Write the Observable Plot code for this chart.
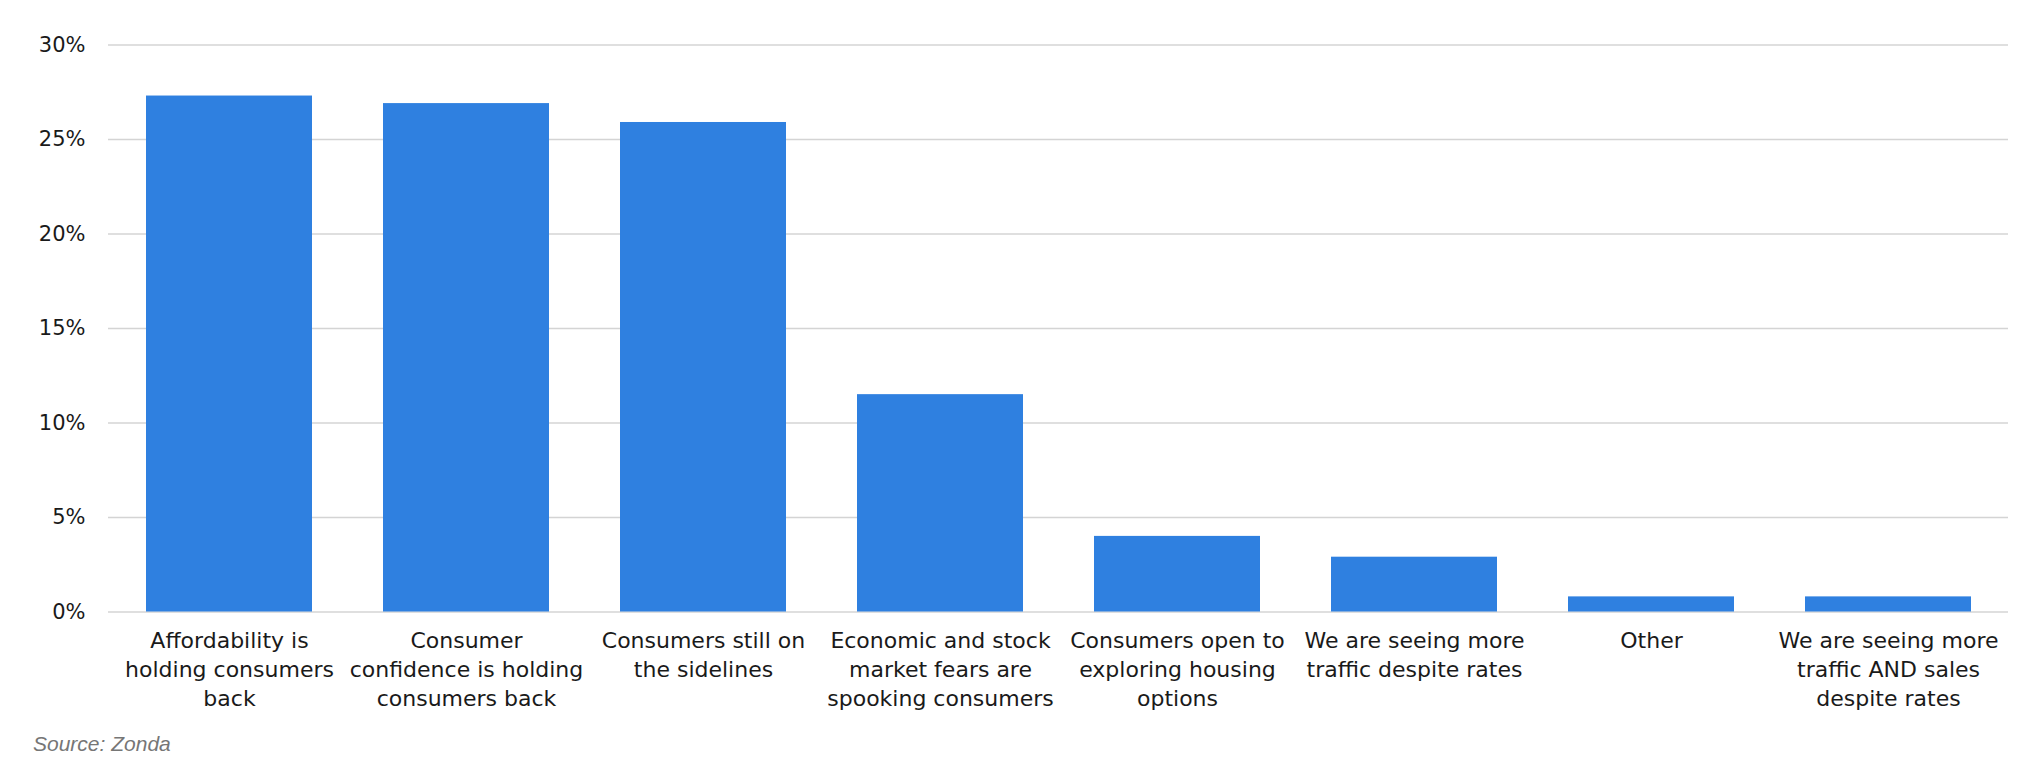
<!DOCTYPE html>
<html>
<head>
<meta charset="utf-8">
<script src="https://cdn.jsdelivr.net/npm/d3@7"></script>
<script src="https://cdn.jsdelivr.net/npm/@observablehq/plot@0.6"></script>
<style>
  html, body { margin: 0; padding: 0; background: #fff; }
  #chart svg { display: block; }
  #caption {
    font-family: "Liberation Sans", Arial, sans-serif;
    font-style: italic;
    font-size: 21px;
    line-height: 24px;
    color: #767676;
    margin: 12px 0 0 33px;
  }
</style>
</head>
<body>
<div id="chart"></div>
<div id="caption">Source: Zonda</div>
<script>
const categories = [
  "Affordability is holding consumers back",
  "Consumer confidence is holding consumers back",
  "Consumers still on the sidelines",
  "Economic and stock market fears are spooking consumers",
  "Consumers open to exploring housing options",
  "We are seeing more traffic despite rates",
  "Other",
  "We are seeing more traffic AND sales despite rates"
];
const tickLabels = [
  "Affordability is\nholding consumers\nback",
  "Consumer\nconfidence is holding\nconsumers back",
  "Consumers still on\nthe sidelines",
  "Economic and stock\nmarket fears are\nspooking consumers",
  "Consumers open to\nexploring housing\noptions",
  "We are seeing more\ntraffic despite rates",
  "Other",
  "We are seeing more\ntraffic AND sales\ndespite rates"
];
const values = [27.3, 26.9, 25.9, 11.5, 4.0, 2.9, 0.8, 0.8];
const yTicks = [0, 5, 10, 15, 20, 25, 30];

const data = categories.map((c, i) => ({category: c, value: values[i]}));
const labelOf = new Map(categories.map((c, i) => [c, tickLabels[i]]));

const chart = Plot.plot({
  width: 2038,
  height: 720,
  marginTop: 44.5,
  marginBottom: 108.5,
  marginLeft: 108,
  marginRight: 30,
  style: {fontFamily: "'DejaVu Sans', sans-serif", fontSize: "21px", color: "#1a1a1a", background: "#fff"},
  x: {domain: categories, paddingInner: 0.3, paddingOuter: 0.15, label: null},
  y: {domain: [0, 30], label: null},
  marks: [
    Plot.ruleY(yTicks, {stroke: "#d4d4d4", strokeWidth: 1.6}),
    Plot.barY(data, {x: "category", y: "value", fill: "#2f80e0"}),
    Plot.axisY({ticks: yTicks, tickSize: 0, tickPadding: 23, tickFormat: d => d + "%", label: null, fontSize: 21}),
    Plot.axisX({tickSize: 0, tickPadding: 16, tickFormat: d => labelOf.get(d), lineHeight: 1.3, label: null, fontSize: 22})
  ]
});
document.getElementById("chart").appendChild(chart);
</script>
</body>
</html>
